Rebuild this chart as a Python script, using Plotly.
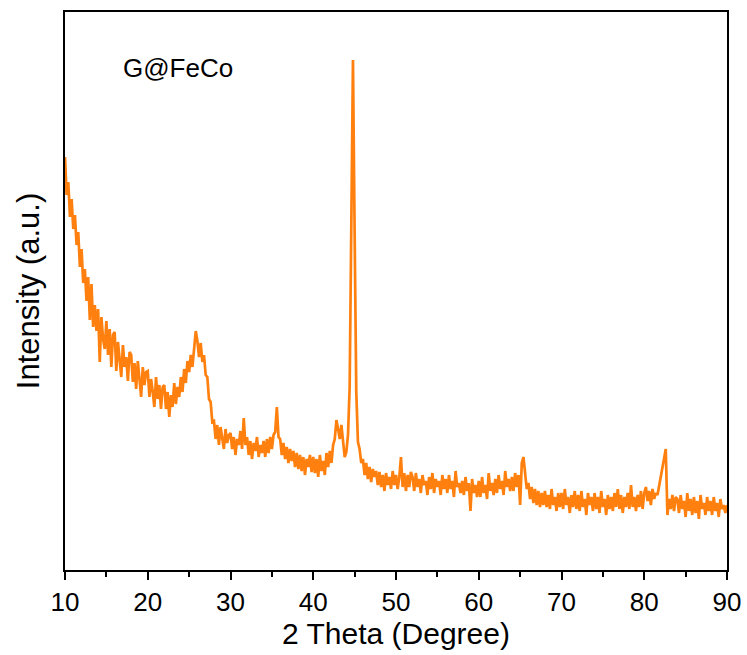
import numpy as np
import plotly.graph_objects as go

# 2-theta grid (degrees), 0.2 deg step
two_theta = np.round(np.linspace(10, 90, 401), 1)

# Intensity (a.u.) (10 values = 2 degrees per row)
intensity = [
    410, 372, 385, 350, 368, 338, 352, 322, 335, 300,   # 10.0-11.8
    318, 284, 298, 266, 290, 247, 283, 240, 262, 236,   # 12.0-13.8
    258, 205, 250, 228, 218, 246, 212, 238, 200, 232,   # 14.0-15.8
    235, 196, 225, 205, 190, 222, 200, 210, 186, 215,   # 16.0-17.8
    212, 185, 204, 178, 206, 188, 170, 200, 182, 195,   # 18.0-19.8
    196, 170, 188, 175, 160, 190, 168, 182, 158, 180,   # 20.0-21.8
    182, 158, 175, 150, 172, 160, 184, 163, 180, 170,   # 22.0-23.8
    190, 175, 198, 184, 206, 195, 212, 200, 222, 236,   # 24.0-25.8
    226, 210, 224, 205, 212, 192, 190, 168, 165, 145,   # 26.0-27.8
    146, 128, 142, 122, 140, 126, 118, 138, 124, 132,   # 28.0-29.8
    134, 118, 130, 112, 128, 122, 136, 118, 149, 122,   # 30.0-31.8
    130, 112, 126, 108, 124, 116, 130, 110, 122, 114,   # 32.0-33.8
    126, 110, 128, 114, 130, 118, 132, 135, 160, 130,   # 34.0-35.8
    128, 112, 124, 108, 120, 104, 118, 106, 116, 100,   # 36.0-37.8
    114, 98, 112, 96, 110, 92, 108, 100, 112, 95,       # 38.0-39.8
    110, 94, 108, 90, 112, 96, 106, 92, 114, 100,       # 40.0-41.8
    116, 104, 122, 128, 147, 138, 128, 142, 122, 110,   # 42.0-43.8
    115, 132, 180, 335, 507, 335, 175, 125, 118, 104,   # 44.0-45.8
    108, 92, 104, 88, 100, 85, 98, 90, 96, 82,          # 46.0-47.8
    95, 80, 92, 76, 94, 82, 90, 78, 96, 82,             # 48.0-49.8
    92, 78, 90, 110, 80, 94, 76, 92, 80, 95,            # 50.0-51.8
    90, 76, 94, 80, 88, 74, 92, 82, 86, 72,             # 52.0-53.8
    90, 78, 94, 74, 88, 80, 86, 72, 92, 78,             # 54.0-55.8
    88, 74, 92, 78, 86, 70, 96, 80, 84, 74,             # 56.0-57.8
    86, 72, 90, 76, 84, 56, 88, 74, 82, 70,             # 58.0-59.8
    86, 70, 90, 74, 82, 68, 94, 76, 84, 72,             # 60.0-61.8
    88, 74, 92, 78, 86, 72, 96, 80, 88, 76,             # 62.0-63.8
    90, 76, 94, 80, 92, 62, 104, 110, 90, 78,           # 64.0-65.8
    84, 68, 80, 64, 78, 62, 76, 60, 74, 62,             # 66.0-67.8
    76, 60, 72, 58, 78, 62, 70, 56, 74, 60,             # 68.0-69.8
    74, 58, 78, 62, 70, 54, 72, 60, 76, 58,             # 70.0-71.8
    72, 56, 76, 60, 68, 52, 74, 62, 70, 56,             # 72.0-73.8
    74, 58, 70, 54, 76, 60, 68, 52, 72, 58,             # 74.0-75.8
    70, 56, 74, 60, 78, 58, 72, 54, 70, 60,             # 76.0-77.8
    74, 58, 82, 60, 70, 56, 72, 60, 76, 58,             # 78.0-79.8
    74, 80, 66, 76, 62, 78, 68, 74, 72, 82,             # 80.0-81.8
    90, 100, 108, 118, 52, 68, 58, 72, 56, 70,          # 82.0-83.8
    68, 54, 72, 58, 66, 50, 74, 56, 68, 52,             # 84.0-85.8
    70, 54, 66, 48, 72, 58, 64, 52, 70, 56,             # 86.0-87.8
    66, 52, 70, 56, 64, 50, 68, 58, 62, 54,             # 88.0-89.8
    62,                                                 # 90.0
]

x_ticks = [10, 20, 30, 40, 50, 60, 70, 80, 90]
sample_label = "G@FeCo"
x_title = "2 Theta (Degree)"
y_title = "Intensity (a.u.)"

FONT = "Liberation Sans, Arial, sans-serif"

fig = go.Figure()
fig.add_trace(go.Scatter(
    x=two_theta, y=intensity, mode="lines",
    line=dict(color="#FF800E", width=2.7),
    showlegend=False,
))

fig.update_layout(
    width=747, height=655,
    margin=dict(l=65, r=20, t=12, b=85),
    paper_bgcolor="white", plot_bgcolor="white",
    font=dict(family=FONT, color="black"),
    xaxis=dict(
        range=[10, 90], tickvals=x_ticks, ticktext=[str(v) for v in x_ticks],
        showline=True, linecolor="black", linewidth=2, mirror=True,
        ticks="outside", ticklen=8, tickwidth=2, tickcolor="black",
        minor=dict(ticks="outside", ticklen=5, tickwidth=2, dtick=5, tick0=10, tickcolor="black"),
        showgrid=False, zeroline=False, automargin=False,
        tickfont=dict(size=26, family=FONT),
        title=dict(text=x_title, font=dict(size=30, family=FONT), standoff=4),
    ),
    yaxis=dict(
        range=[-3, 555],
        showline=True, linecolor="black", linewidth=2, mirror=True,
        ticks="", showticklabels=False, showgrid=False, zeroline=False,
        automargin=False,
        title=dict(text=y_title, font=dict(size=31, family=FONT), standoff=14),
    ),
    annotations=[dict(
        text=sample_label, xref="paper", yref="paper",
        x=0.17, y=0.90, xanchor="center", yanchor="middle",
        showarrow=False, font=dict(size=26, family=FONT, color="black"),
    )],
)

fig.write_html("out.html")
